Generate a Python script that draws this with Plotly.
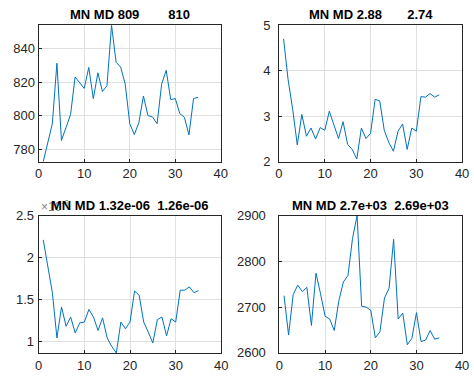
import numpy as np
import plotly.graph_objects as go

# Sample index shared by all four panels
idx = list(range(1, 36))

# Panel values
p1 = [772.5, 784.2, 795.2, 831.3, 785.2, 792.9, 800.6, 823.1, 819.4, 816.3,
      828.8, 810.2, 825.6, 814.4, 817.9, 854.0, 831.9, 829.0, 818.8, 795.2,
      788.7, 795.8, 811.7, 800.0, 799.2, 795.2, 818.8, 827.1, 809.6, 810.2,
      801.2, 799.0, 788.5, 810.2, 811.0]
p2 = [4.70, 3.80, 3.15, 2.37, 3.04, 2.56, 2.74, 2.50, 2.75, 2.69,
      3.11, 2.82, 2.51, 2.88, 2.38, 2.27, 2.06, 2.74, 2.51, 2.62,
      3.37, 3.34, 2.69, 2.42, 2.23, 2.67, 2.83, 2.27, 2.74, 2.67,
      3.43, 3.42, 3.50, 3.42, 3.47]
p3 = [2.21e-6, 1.88e-6, 1.58e-6, 1.04e-6, 1.41e-6, 1.18e-6, 1.29e-6, 1.10e-6, 1.22e-6, 1.23e-6,
      1.38e-6, 1.29e-6, 1.13e-6, 1.28e-6, 1.04e-6, 0.94e-6, 0.862e-6, 1.23e-6, 1.15e-6, 1.23e-6,
      1.60e-6, 1.55e-6, 1.23e-6, 1.11e-6, 0.98e-6, 1.26e-6, 1.29e-6, 1.065e-6, 1.27e-6, 1.23e-6,
      1.61e-6, 1.61e-6, 1.65e-6, 1.58e-6, 1.605e-6]
p4 = [2725, 2639, 2727, 2748, 2734, 2743, 2660, 2774, 2729, 2680,
      2674, 2649, 2714, 2755, 2769, 2850, 2900, 2702, 2700, 2693,
      2633, 2646, 2720, 2741, 2848, 2674, 2687, 2618, 2632, 2688,
      2625, 2628, 2649, 2630, 2633]

# Y tick values per panel (panel 3 shown in units of 1e-6)
ticks1 = [780, 800, 820, 840]
ticks2 = [2, 3, 4, 5]
ticks3 = [1, 1.5, 2, 2.5]
ticks4 = [2600, 2700, 2800, 2900]
xticks = [0, 10, 20, 30, 40]

W, H = 474, 384
LINE = "#0072bd"
AX = "#262626"
GRID = "#dfdfdf"
FONT = "Liberation Sans, Arial, Helvetica, sans-serif"

# Axes boxes in pixels: (left, right, top, bottom)
boxes = [
    (35.5, 222.0, 19.0, 161.0),
    (281.5, 469.0, 19.0, 161.0),
    (35.5, 222.5, 217.0, 360.0),
    (282.0, 469.0, 217.0, 360.0),
]

scale3 = 1e-6
# (values, display scale, y ticks, y range, title gap, y label standoff)
series = [
    (p1, 1.0, ticks1, [min(p1), max(p1)], 8, 0),
    (p2, 1.0, ticks2, [2, 5], 7, 5),
    (p3, scale3, ticks3, [min(p3) / scale3, 2.5], 2, 1),
    (p4, 1.0, ticks4, [2600, 2900], 2, 10),
]

fig = go.Figure()
annotations = []
NB = "\u00a0"

for i, ((vals, sc, yt, yr, gap, stand), (l, r, t, b)) in enumerate(zip(series, boxes)):
    n = "" if i == 0 else str(i + 1)
    y_plot = [v / sc for v in vals]
    fig.add_trace(go.Scatter(
        x=idx, y=y_plot, mode="lines",
        line=dict(color=LINE, width=1),
        xaxis="x" + n, yaxis="y" + n, showlegend=False,
        hoverinfo="x+y",
    ))
    common = dict(
        showline=True, mirror=True, linecolor=AX, linewidth=1,
        ticks="inside", ticklen=3, tickcolor=AX, tickwidth=1,
        showgrid=True, gridcolor=GRID, gridwidth=1,
        zeroline=False,
        tickfont=dict(family=FONT, size=13, color=AX),
    )
    fig.update_layout({
        "xaxis" + n: dict(
            domain=[l / W, r / W], anchor="y" + n,
            range=[0, 40], tickvals=xticks, **common),
        "yaxis" + n: dict(
            domain=[1 - b / H, 1 - t / H], anchor="x" + n,
            range=yr, tickvals=yt, ticklabelstandoff=stand, **common),
    })
    mn = np.mean(vals)
    md = np.median(vals)
    title = f"MN MD {mn:.3g}" + NB * gap + f"{md:.3g}"
    annotations.append(dict(
        text=f"<b>{title}</b>", x=(l + r) / 2 / W, y=1 - t / H,
        xref="paper", yref="paper", xanchor="center", yanchor="bottom",
        yshift=1, showarrow=False,
        font=dict(family=FONT, size=13, color="#000000"),
    ))

# Exponent multiplier for panel 3
l3, r3, t3, b3 = boxes[2]
annotations.insert(0, dict(
    text="×10<sup>-6</sup>", x=l3 / W, y=1 - t3 / H,
    xref="paper", yref="paper", xanchor="left", yanchor="bottom",
    yshift=0, showarrow=False,
    font=dict(family=FONT, size=12, color="#7f7f7f"),
))

fig.update_layout(
    width=W, height=H,
    margin=dict(l=0, r=0, t=0, b=0),
    paper_bgcolor="white", plot_bgcolor="white",
    annotations=annotations,
    showlegend=False,
)

fig.write_html("out.html")
